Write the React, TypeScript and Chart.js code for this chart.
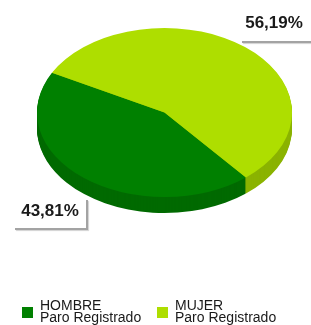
import { useEffect, useRef } from 'react';
import { Chart, registerables } from 'chart.js';

Chart.register(...registerables);

const categories = ['HOMBRE', 'MUJER'];
const subLabel = 'Paro Registrado';
const values = [43.81, 56.19];
const valueLabels = ['43,81%', '56,19%'];
const topColors = ['#008000', '#aede00'];
const sideColors = ['#006a00', '#8bb300'];

const W = 311;
const H = 325;
const CY = 112.5;
const TILT = 84.5 / 127.5;
const DEPTH = 16;
const FONT = "'Liberation Sans', Arial, sans-serif";

function arcPath(ctx: CanvasRenderingContext2D, p: any) {
  ctx.beginPath();
  ctx.moveTo(p.x, p.y);
  ctx.arc(p.x, p.y, p.outerRadius, p.startAngle, p.endAngle);
  ctx.closePath();
}

const pie3d = {
  id: 'pie3d',
  beforeDatasetsDraw(chart: any) {
    const arcs = chart.getDatasetMeta(0).data;
    const ctx: CanvasRenderingContext2D = chart.ctx;
    const y0 = arcs[0].y;
    const apply = (dy: number) => {
      ctx.translate(0, CY + dy);
      ctx.scale(1, TILT);
      ctx.translate(0, -y0);
    };
    for (let k = DEPTH; k >= 1; k--) {
      ctx.save();
      apply(k);
      arcs.forEach((a: any, i: number) => {
        const p = a.getProps(['x', 'y', 'startAngle', 'endAngle', 'outerRadius']);
        arcPath(ctx, p);
        ctx.fillStyle = sideColors[i];
        ctx.fill();
      });
      ctx.restore();
    }
    ctx.save();
    apply(0);
  },
  afterDatasetsDraw(chart: any) {
    chart.ctx.restore();
  },
  afterDraw(chart: any) {
    const ctx: CanvasRenderingContext2D = chart.ctx;
    const arcs = chart.getDatasetMeta(0).data;
    ctx.save();
    arcs.forEach((a: any, i: number) => {
      const p = a.getProps(['x', 'y', 'startAngle', 'endAngle', 'outerRadius']);
      const mid = (p.startAngle + p.endAngle) / 2;
      const ax = p.x + p.outerRadius * Math.cos(mid);
      const ay = CY + p.outerRadius * Math.sin(mid) * TILT;
      ctx.strokeStyle = '#a3a3a3';
      ctx.lineWidth = 2;
      ctx.shadowColor = 'rgba(0,0,0,0.18)';
      ctx.shadowOffsetX = 1;
      ctx.shadowOffsetY = 1;
      ctx.shadowBlur = 1;
      let tx: number, ty: number;
      if (ax < p.x) {
        const lx = Math.round(ax) + 3;
        const ly = Math.round(ay) + 51;
        ctx.beginPath();
        ctx.moveTo(lx, ay + 22);
        ctx.lineTo(lx, ly);
        ctx.lineTo(15, ly);
        ctx.stroke();
        tx = lx - 37;
        ty = ly - 18;
      } else {
        const lx = Math.round(ax) - 3;
        const ly = Math.round(ay) - 5;
        ctx.beginPath();
        ctx.moveTo(lx, ly);
        ctx.lineTo(W, ly);
        ctx.stroke();
        tx = lx + 32;
        ty = ly - 19;
      }
      ctx.shadowColor = 'transparent';
      ctx.fillStyle = '#1a1a1a';
      ctx.font = `bold 17px ${FONT}`;
      ctx.textAlign = 'center';
      ctx.textBaseline = 'middle';
      ctx.fillText(valueLabels[i], tx, ty);
    });
    // legend
    const itemX = [22, 157];
    categories.forEach((c, i) => {
      ctx.fillStyle = topColors[i];
      ctx.fillRect(itemX[i], 307, 11, 11);
      ctx.fillStyle = '#1a1a1a';
      ctx.font = `14px ${FONT}`;
      ctx.textAlign = 'left';
      ctx.textBaseline = 'alphabetic';
      ctx.fillText(c, itemX[i] + 18, 310);
      ctx.fillText(subLabel, itemX[i] + 18, 322);
    });
    ctx.restore();
  },
};

export default function App() {
  const ref = useRef<HTMLCanvasElement>(null);
  useEffect(() => {
    document.body.style.margin = '0';
    const chart = new Chart(ref.current as HTMLCanvasElement, {
      type: 'pie',
      data: {
        labels: categories,
        datasets: [
          {
            data: values,
            backgroundColor: topColors,
            borderWidth: 0,
            hoverOffset: 0,
          },
        ],
      },
      options: {
        animation: false,
        responsive: false,
        rotation: 140.3,
        layout: { padding: { left: 37, right: 19, top: 0, bottom: 70 } },
        plugins: { legend: { display: false }, tooltip: { enabled: false } },
        events: [],
      },
      plugins: [pie3d],
    } as any);
    return () => chart.destroy();
  }, []);
  return (
    <div style={{ width: W, height: H, position: 'relative' }}>
      <canvas ref={ref} width={W} height={H} style={{ width: W, height: H, display: 'block' }} />
    </div>
  );
}
